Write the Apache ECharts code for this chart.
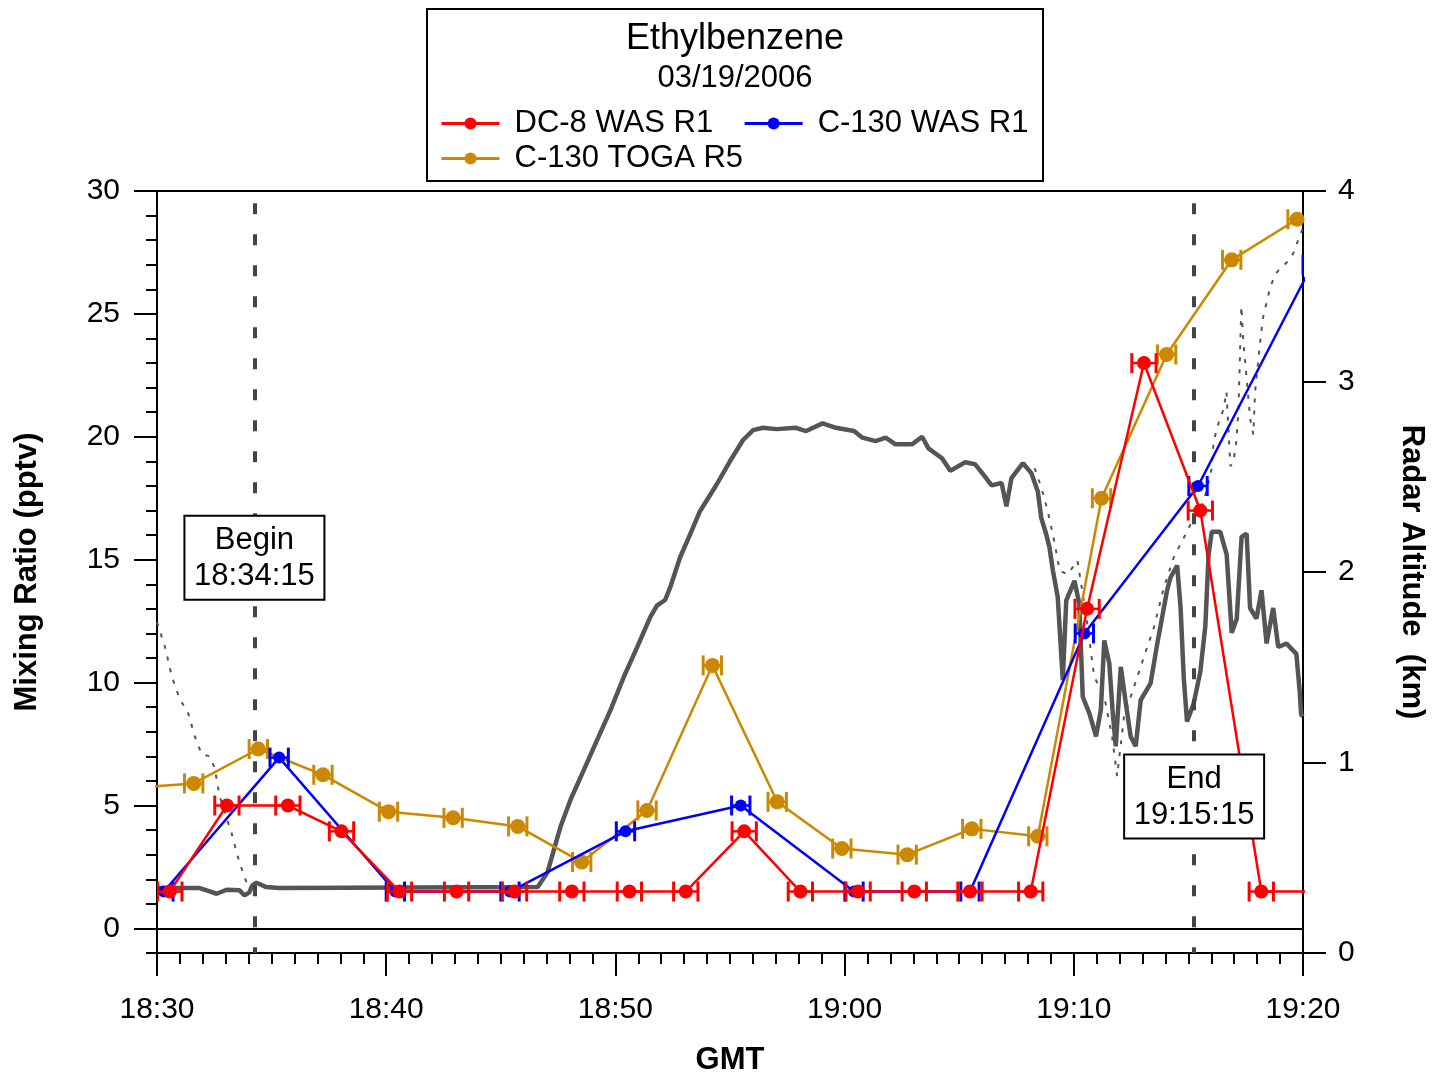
<!DOCTYPE html>
<html>
<head>
<meta charset="utf-8">
<script src="https://cdn.jsdelivr.net/npm/echarts@6/dist/echarts.min.js"></script>
<style>html,body{margin:0;padding:0;background:#fff;}#main{width:1435px;height:1081px;}</style>
</head>
<body>
<div id="main"></div>
<script>
// ---- data (time in minutes after 18:30 GMT) ----
const xTickLabels = ['18:30','18:40','18:50','19:00','19:10','19:20'];
const leftTickValues = [0,5,10,15,20,25,30];

const dc8Times  = [0.56,3.05,5.71,8.05,10.58,13.07,15.60,18.10,20.61,23.07,25.62,28.07,30.59,33.04,35.47,38.12,40.58,43.06,45.52,48.18,50.70];
const dc8Values = [1.5,5.0,5.0,3.95,1.5,1.5,1.5,1.5,1.5,1.5,3.95,1.5,1.5,1.5,1.5,1.5,13.0,23.0,17.0,1.5,1.5];
const dc8Err = [0.53];

const c130WasTimes  = [0.30,5.33,10.40,15.40,20.44,25.47,30.41,35.47,40.46,45.42,50.40];
const c130WasValues = [1.5,6.95,1.5,1.5,3.95,5.0,1.5,1.5,12.0,18.0,27.0];
const c130WasErr = [0.40];

const togaTimes  = [-1.25,1.60,4.42,7.24,10.10,12.92,15.74,18.53,21.38,24.23,27.06,29.88,32.73,35.55,38.43,41.21,44.05,46.89,49.74];
const togaValues = [5.7,5.9,7.3,6.25,4.75,4.5,4.15,2.7,4.8,10.7,5.15,3.25,3.0,4.05,3.75,17.5,23.35,27.2,28.85];
const togaErr = [0.40];

// radar altitude (km), [minute, km]
const radarAlt = [
[0.00,0.341],[1.86,0.341],[2.30,0.323],[2.60,0.311],[3.04,0.332],[3.60,0.329],[3.82,0.302],[4.03,0.318],[4.16,0.355],[4.34,0.369],[4.77,0.346],[5.33,0.341],[16.61,0.346],
[17.04,0.424],[17.33,0.548],[17.62,0.668],[18.05,0.807],[18.63,0.963],[19.21,1.120],[19.79,1.276],[20.37,1.450],[20.95,1.606],[21.52,1.763],[21.81,1.824],[22.17,1.853],[22.39,1.919],[22.82,2.076],[23.26,2.197],[23.69,2.319],[24.41,2.458],[24.99,2.580],[25.57,2.693],[26.01,2.745],[26.44,2.757],[27.02,2.750],[27.88,2.757],[28.32,2.740],[29.04,2.780],[29.62,2.757],[30.41,2.740],[30.78,2.705],[31.35,2.687],[31.79,2.705],[32.22,2.670],[32.94,2.670],[33.38,2.710],[33.66,2.649],[34.25,2.597],[34.61,2.531],[35.26,2.576],[35.69,2.566],[36.12,2.502],[36.41,2.455],[36.85,2.467],[37.06,2.345],[37.28,2.493],[37.78,2.571],[38.15,2.519],[38.43,2.423],[38.58,2.284],[38.80,2.197],[38.94,2.128],[39.09,2.006],[39.30,1.867],[39.45,1.571],[39.52,1.433],[39.67,1.850],[40.03,1.954],[40.24,1.832],[40.39,1.345],[40.68,1.258],[40.97,1.137],[41.18,1.276],[41.33,1.641],[41.55,1.519],[41.69,1.276],[41.83,1.085],[42.05,1.502],[42.27,1.311],[42.48,1.137],[42.70,1.085],[42.92,1.328],[43.35,1.415],[43.64,1.623],[44.07,1.904],[44.22,1.971],[44.51,2.034],[44.66,1.811],[44.80,1.439],[44.94,1.215],[45.23,1.309],[45.52,1.476],[45.74,1.718],[45.88,2.091],[46.02,2.211],[46.39,2.211],[46.67,2.091],[46.89,1.681],[47.11,1.755],[47.32,2.184],[47.54,2.202],[47.69,1.811],[47.97,1.755],[48.19,1.904],[48.41,1.625],[48.70,1.811],[48.92,1.606],[49.28,1.625],[49.71,1.570],[49.85,1.382],[49.92,1.252],[50.00,1.241]
];

// second (dotted) altitude trace, visible parts
const altDottedStart = [
[0.00,1.737],[0.35,1.606],[0.65,1.450],[1.00,1.330],[1.34,1.267],[1.65,1.137],[1.95,1.043],[2.30,1.033],[2.52,0.970],[2.73,0.824],[3.25,0.631],[3.51,0.511],[3.82,0.396],[4.03,0.339]
];
const altDottedEnd = [
[38.29,2.545],[38.59,2.441],[38.86,2.321],[39.16,2.154],[39.38,2.008],[39.73,1.987],[40.16,2.060],[40.55,1.763],[40.89,1.450],[41.33,1.345],[41.67,1.137],[41.89,0.928],[42.19,1.241],[42.63,1.398],[43.06,1.554],[43.50,1.711],[43.93,1.919],[44.36,2.076],[44.80,2.180],[45.23,2.284],[45.66,2.363],[46.01,2.540],[46.10,2.686],[46.31,2.780],[46.53,2.853],[46.66,2.947],[46.83,2.555],[46.96,2.576],[47.09,2.686],[47.18,2.837],[47.31,3.395],[47.40,3.207],[47.48,3.098],[47.70,2.801],[47.83,2.722],[47.91,2.947],[48.13,3.207],[48.26,3.338],[48.56,3.489],[48.78,3.562],[49.04,3.598],[49.34,3.630],[49.57,3.671],[49.78,3.739],[50.00,3.807]
];

const markerTimes = [4.25, 45.25];          // 18:34:15 and 19:15:15
const markerTitles = ['Begin', 'End'];
const markerLabels = ['18:34:15', '19:15:15'];
const markerBoxY = [15.08, 5.37];          // vertical anchor of label boxes (left axis units)

// ---- build ----
const FONT = "'Liberation Sans', Arial, Helvetica, sans-serif";
const RED = '#ff0000', BLUE = '#0000ff', GOLD = '#cc8800', GREY = '#555555';

function pairs(ts, vs) { return ts.map((t, i) => [t, vs[i]]); }
function errData(ts, vs, e) { return ts.map((t, i) => [t, vs[i], t - e, t + e]); }

function errRender(color) {
  return function (params, api) {
    const v = api.value(1);
    const p1 = api.coord([api.value(2), v]);
    const p2 = api.coord([api.value(3), v]);
    const h = 10;
    return {
      type: 'group',
      children: [
        { type: 'line', shape: { x1: p1[0], y1: p1[1], x2: p2[0], y2: p2[1] }, style: { stroke: color, lineWidth: 2.5 } },
        { type: 'line', shape: { x1: p1[0], y1: p1[1] - h, x2: p1[0], y2: p1[1] + h }, style: { stroke: color, lineWidth: 3 } },
        { type: 'line', shape: { x1: p2[0], y1: p2[1] - h, x2: p2[0], y2: p2[1] + h }, style: { stroke: color, lineWidth: 3 } }
      ]
    };
  };
}

const minorLeft = [];
for (let v = -1; v <= 30; v++) if (v % 5 !== 0) minorLeft.push(v);

const tickStyle = { color: '#000', width: 2 };
const dataSeries = (name, ts, vs, color, size, z) => ({
  name: name, type: 'line', yAxisIndex: 0, data: pairs(ts, vs),
  symbol: 'circle', symbolSize: size, showSymbol: true, clip: true,
  lineStyle: { color: color, width: 2.5 }, itemStyle: { color: color },
  emphasis: { disabled: true }, z: z, animation: false
});
const errSeries = (name, ts, vs, e, color, z) => ({
  name: name, type: 'custom', yAxisIndex: 0, data: errData(ts, vs, e),
  renderItem: errRender(color), encode: { x: 0, y: 1 }, clip: true, silent: true, z: z, animation: false
});

const legendCommon = {
  padding: 0, itemWidth: 58, itemHeight: 15, itemGap: 30, selectedMode: false,
  lineStyle: { width: 3 },
  textStyle: { fontSize: 31, color: '#000', fontFamily: FONT, padding: [0, 0, 0, 10] }
};

const option = {
  animation: false,
  backgroundColor: '#ffffff',
  textStyle: { fontFamily: FONT },
  title: {
    text: 'Ethylbenzene', subtext: '03/19/2006',
    left: 735, top: 21, textAlign: 'center', itemGap: 6, padding: 0,
    textStyle: { fontSize: 36, fontWeight: 'normal', color: '#000', fontFamily: FONT },
    subtextStyle: { fontSize: 31, color: '#000', fontFamily: FONT }
  },
  legend: [
    Object.assign({ data: ['DC-8 WAS R1', 'C-130 WAS R1'], left: 440, top: 108 }, legendCommon),
    Object.assign({ data: ['C-130 TOGA R5'], left: 440, top: 143 }, legendCommon)
  ],
  graphic: [
    { type: 'rect', shape: { x: 427, y: 9, width: 616, height: 172 }, style: { fill: 'none', stroke: '#000', lineWidth: 2 }, z: 100 }
  ],
  grid: { left: 157, right: 125, top: 191, bottom: 123, show: true, borderColor: '#000', borderWidth: 2, backgroundColor: 'transparent' },
  xAxis: {
    type: 'value', min: 0, max: 50, interval: 10, position: 'bottom',
    axisLine: { show: true, onZero: false, lineStyle: tickStyle },
    axisTick: { show: true, length: 23, lineStyle: tickStyle },
    minorTick: { show: true, splitNumber: 10, length: 11, lineStyle: tickStyle },
    axisLabel: { margin: 42, fontSize: 30, color: '#000', fontFamily: FONT, formatter: v => xTickLabels[Math.round(v / 10)] },
    splitLine: { show: false }, minorSplitLine: { show: false },
    name: 'GMT', nameLocation: 'middle', nameGap: 92,
    nameTextStyle: { fontSize: 31, fontWeight: 'bold', color: '#000', fontFamily: FONT }
  },
  yAxis: [
    {
      type: 'value', min: -1, max: 30, position: 'left',
      axisLine: { show: true, onZero: false, lineStyle: tickStyle },
      axisTick: { show: true, length: 23, customValues: leftTickValues, lineStyle: tickStyle },
      axisLabel: { margin: 37, fontSize: 30, color: '#000', fontFamily: FONT, customValues: leftTickValues },
      splitLine: { show: false },
      name: 'Mixing Ratio (pptv)', nameLocation: 'middle', nameRotate: 90, nameGap: 114,
      nameTextStyle: { fontSize: 31, fontWeight: 'bold', color: '#000', fontFamily: FONT }
    },
    {
      type: 'value', min: 0, max: 4, interval: 1, position: 'right',
      axisLine: { show: true, onZero: false, lineStyle: tickStyle },
      axisTick: { show: true, length: 23, lineStyle: tickStyle },
      axisLabel: { margin: 35, fontSize: 30, color: '#000', fontFamily: FONT },
      splitLine: { show: false },
      name: 'Radar Altitude  (km)', nameLocation: 'middle', nameRotate: -90, nameGap: 93,
      nameTextStyle: { fontSize: 31, fontWeight: 'bold', color: '#000', fontFamily: FONT }
    },
    {
      type: 'value', min: -1, max: 30, position: 'left',
      axisLine: { show: false, onZero: false },
      axisTick: { show: true, length: 11, customValues: minorLeft, lineStyle: tickStyle },
      axisLabel: { show: false },
      splitLine: { show: false }
    }
  ],
  series: [
    { name: 'altDotA', type: 'line', yAxisIndex: 1, data: altDottedStart, symbol: 'none', silent: true, z: 1,
      lineStyle: { color: GREY, width: 2, type: [4, 8] } },
    { name: 'altDotB', type: 'line', yAxisIndex: 1, data: altDottedEnd, symbol: 'none', silent: true, z: 1,
      lineStyle: { color: GREY, width: 2, type: [4, 8] } },
    { name: 'Radar Altitude', type: 'line', yAxisIndex: 1, data: radarAlt, symbol: 'none', silent: true, z: 2,
      lineStyle: { color: GREY, width: 4.5 } },
    { name: 'refLines', type: 'line', yAxisIndex: 0, data: [], silent: true, z: 3,
      markLine: { silent: true, symbol: ['none', 'none'], label: { show: false }, animation: false,
        lineStyle: { color: '#444', width: 4, type: [11, 20] },
        data: markerTimes.map(t => [{ coord: [t, 29.5] }, { coord: [t, -1] }]) } },
    { name: 'zeroLine', type: 'line', yAxisIndex: 0, data: [], silent: true, z: 3,
      markLine: { silent: true, symbol: ['none', 'none'], label: { show: false }, animation: false,
        lineStyle: { color: '#000', width: 2, type: 'solid' },
        data: [[{ coord: [0, 0] }, { coord: [50, 0] }]] } },
    errSeries('togaErr', togaTimes, togaValues, togaErr[0], GOLD, 4),
    dataSeries('C-130 TOGA R5', togaTimes, togaValues, GOLD, 15, 4),
    errSeries('c130Err', c130WasTimes, c130WasValues, c130WasErr[0], BLUE, 5),
    dataSeries('C-130 WAS R1', c130WasTimes, c130WasValues, BLUE, 12, 5),
    errSeries('dc8Err', dc8Times, dc8Values, dc8Err[0], RED, 6),
    dataSeries('DC-8 WAS R1', dc8Times, dc8Values, RED, 14, 6),
    {
      name: 'markers', type: 'custom', yAxisIndex: 0, silent: true, z: 10, clip: false,
      data: markerTimes.map((t, i) => [t, markerBoxY[i], i]),
      encode: { x: 0, y: 1 },
      renderItem: function (params, api) {
        const c = api.coord([api.value(0), api.value(1)]);
        const i = api.value(2);
        const w = 140, h = 84;
        return {
          type: 'group',
          children: [
            { type: 'rect', shape: { x: c[0] - w / 2, y: c[1] - h / 2, width: w, height: h },
              style: { fill: '#fff', stroke: '#000', lineWidth: 2 } },
            { type: 'text', x: c[0], y: c[1] - 17,
              style: { text: markerTitles[i], fill: '#000', font: '31px ' + FONT, align: 'center', verticalAlign: 'middle' } },
            { type: 'text', x: c[0], y: c[1] + 19,
              style: { text: markerLabels[i], fill: '#000', font: '31px ' + FONT, align: 'center', verticalAlign: 'middle' } }
          ]
        };
      }
    }
  ]
};

const chart = echarts.init(document.getElementById('main'));
chart.setOption(option);
</script>
</body>
</html>
